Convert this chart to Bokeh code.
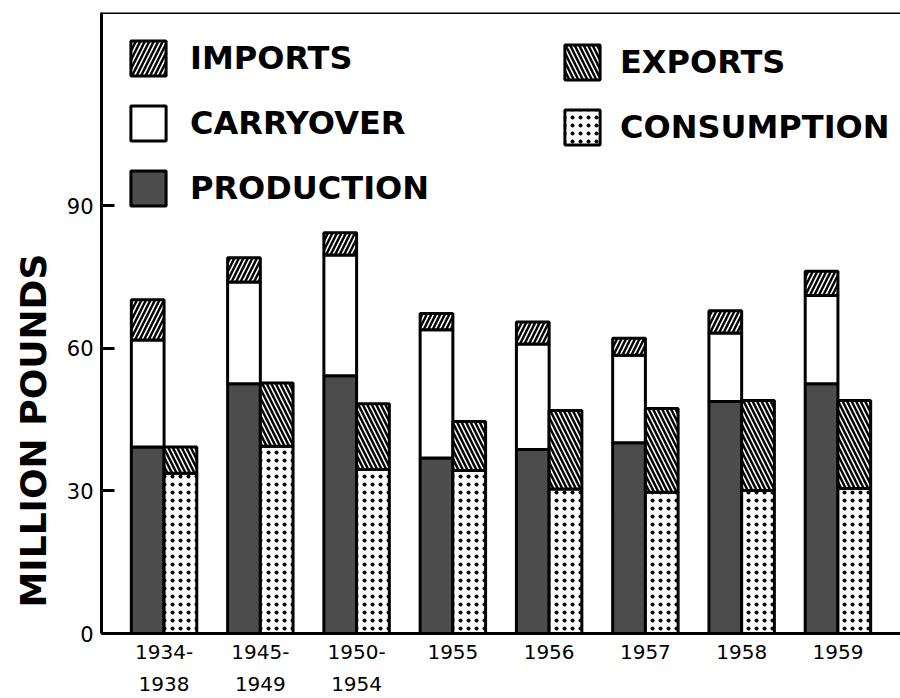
from bokeh.plotting import figure
from bokeh.models import (ColumnDataSource, FactorRange, Range1d, FixedTicker,
                          Legend, LegendItem, Span, Title)
from bokeh.transform import dodge, stack
from bokeh.embed import file_html
from bokeh.resources import INLINE

# ---- data (million pounds) ----
years = ["1934-\n1938", "1945-\n1949", "1950-\n1954", "1955", "1956", "1957", "1958", "1959"]

production = [39.2, 52.5, 54.2, 36.9, 38.7, 40.1, 48.8, 52.5]
carryover = [22.5, 21.4, 25.4, 27.0, 22.2, 18.4, 14.4, 18.6]
imports = [8.5, 5.1, 4.7, 3.4, 4.6, 3.6, 4.7, 5.1]

consumption = [33.7, 39.4, 34.5, 34.3, 30.4, 29.7, 30.1, 30.5]
exports = [5.5, 13.3, 13.8, 10.3, 16.5, 17.6, 18.9, 18.5]

y_ticks = [0, 30, 60, 90]
y_top = 130.6

source = ColumnDataSource(dict(year=years, production=production, carryover=carryover,
                               imports=imports, consumption=consumption, exports=exports))

p = figure(x_range=FactorRange(factors=years, range_padding=0.15, range_padding_units="absolute"),
           y_range=Range1d(0, y_top),
           width=900, height=698, output_backend="svg", toolbar_location=None,
           min_border_left=100, min_border_right=0, min_border_top=12, min_border_bottom=65)
p.outline_line_color = None
p.grid.visible = False
p.background_fill_color = "white"
p.border_fill_color = "white"

W = 0.34
OFF = 0.17
common = dict(width=W, source=source, line_color="black", line_width=3)
xl = dodge("year", -OFF, range=p.x_range)
xr = dodge("year", OFF, range=p.x_range)

r_prod = p.vbar(x=xl, bottom=0, top=stack("production"), fill_color="#4c4c4c", **common)
r_car = p.vbar(x=xl, bottom=stack("production"), top=stack("production", "carryover"),
               fill_color="white", **common)
r_imp = p.vbar(x=xl, bottom=stack("production", "carryover"),
               top=stack("production", "carryover", "imports"),
               fill_color="white", hatch_pattern="/", hatch_color="black",
               hatch_scale=9, hatch_weight=2.5, **common)
r_cons = p.vbar(x=xr, bottom=0, top=stack("consumption"), fill_color="white",
                hatch_pattern="dot", hatch_color="black", hatch_scale=8, hatch_weight=4, **common)
r_exp = p.vbar(x=xr, bottom=stack("consumption"), top=stack("consumption", "exports"),
               fill_color="white", hatch_pattern="\\", hatch_color="black",
               hatch_scale=9, hatch_weight=2.5, **common)

# axes
yax = p.yaxis[0]
yax.ticker = FixedTicker(ticks=y_ticks)
yax.axis_line_width = 3
yax.major_tick_line_width = 3
yax.major_tick_in = 13
yax.major_tick_out = 0
yax.minor_tick_in = 0
yax.minor_tick_out = 0
yax.major_label_standoff = 8
yax.major_label_text_font = "DejaVu Sans"
yax.major_label_text_font_size = "21px"
yax.major_label_text_color = "black"

ytitle = Title(text="MILLION POUNDS", text_font="DejaVu Sans", text_font_style="bold",
               text_font_size="36px", text_color="black", align="left", offset=26,
               standoff=20)
p.add_layout(ytitle, "left")

xax = p.xaxis[0]
xax.axis_line_width = 3
xax.major_tick_in = 0
xax.major_tick_out = 0
xax.minor_tick_in = 0
xax.minor_tick_out = 0
xax.major_label_standoff = 6
xax.major_label_text_font = "DejaVu Sans"
xax.major_label_text_font_size = "20px"
xax.major_label_text_color = "black"
xax.major_label_text_line_height = 1.35

# top frame line
p.add_layout(Span(location=y_top, dimension="width", line_color="black", line_width=3))

leg_style = dict(glyph_width=44, glyph_height=44, label_text_font="DejaVu Sans",
                 label_text_font_style="bold", label_text_font_size="32px",
                 label_text_color="black", spacing=21, padding=0,
                 margin=0, border_line_color=None, background_fill_alpha=0,
                 label_height=44)

leg_left = Legend(items=[LegendItem(label="IMPORTS", renderers=[r_imp]),
                         LegendItem(label="CARRYOVER", renderers=[r_car]),
                         LegendItem(label="PRODUCTION", renderers=[r_prod])],
                  location=(25, 423), label_standoff=20, **leg_style)
leg_right = Legend(items=[LegendItem(label="EXPORTS", renderers=[r_exp]),
                          LegendItem(label="CONSUMPTION", renderers=[r_cons])],
                   location=(459, 484), label_standoff=16, **leg_style)
p.add_layout(leg_left)
p.add_layout(leg_right)

open("out.html", "w").write(file_html(p, INLINE))
